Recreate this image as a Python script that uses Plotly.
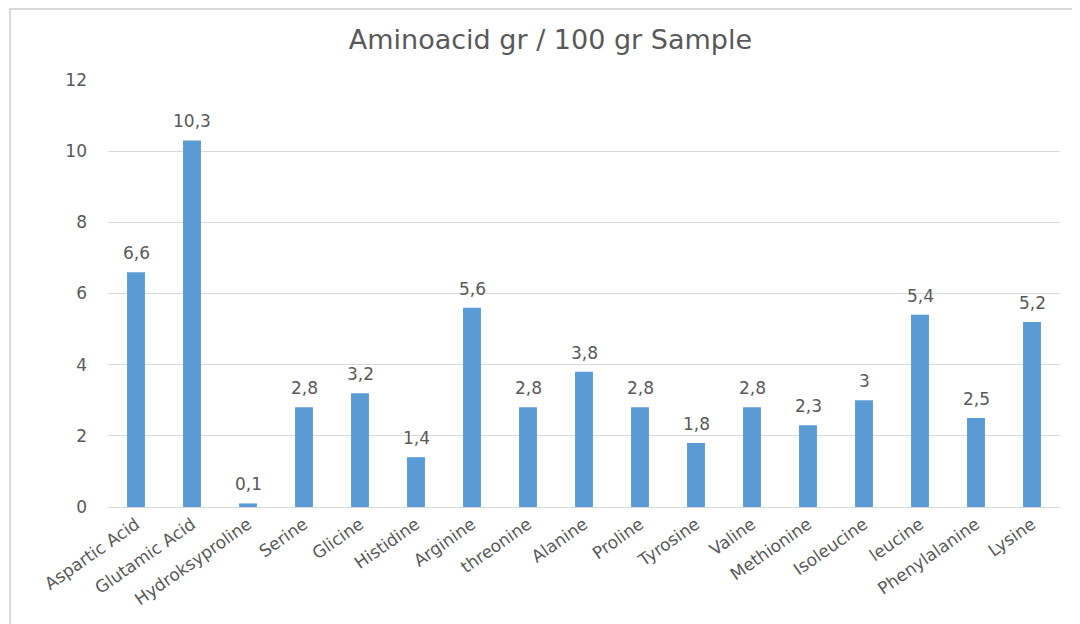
import plotly.graph_objects as go

categories = ["Aspartic Acid", "Glutamic Acid", "Hydroksyproline", "Serine", "Glicine",
              "Histidine", "Arginine", "threonine", "Alanine", "Proline", "Tyrosine",
              "Valine", "Methionine", "Isoleucine", "leucine", "Phenylalanine", "Lysine"]
values = [6.6, 10.3, 0.1, 2.8, 3.2, 1.4, 5.6, 2.8, 3.8, 2.8, 1.8, 2.8, 2.3, 3.0, 5.4, 2.5, 5.2]
y_ticks = [0, 2, 4, 6, 8, 10, 12]

FONT = "DejaVu Sans, sans-serif"
GREY = "#595959"

fig = go.Figure(go.Bar(
    x=categories, y=values,
    marker=dict(color="#5B9BD5", line=dict(width=0)),
    hoverinfo="x+y",
))

annotations = [
    dict(x=c, y=v, xref="x", yref="y", text=f"{v:g}".replace(".", ","),
         showarrow=False, yanchor="bottom", yshift=7,
         font=dict(family=FONT, size=17, color=GREY))
    for c, v in zip(categories, values)
]

W, H = 1072, 616
L, T = 100, 72
PW, PH = 952, 427

fig.update_layout(
    width=W, height=H,
    separators=", ",
    paper_bgcolor="white", plot_bgcolor="white",
    margin=dict(l=L, r=W - L - PW, t=T, b=H - T - PH, autoexpand=False),
    bargap=0.68,
    title=dict(text="Aminoacid gr / 100 gr Sample", x=0.506, xanchor="center",
               y=0.948, yanchor="middle",
               font=dict(family=FONT, size=27, color=GREY)),
    showlegend=False,
    annotations=annotations,
    xaxis=dict(tickangle=-35, tickfont=dict(family=FONT, size=17, color=GREY),
               showline=True, linecolor="#d9d9d9", linewidth=1, ticks="",
               showgrid=False, automargin=False),
    yaxis=dict(range=[0, 12], tickvals=y_ticks, showgrid=True, gridcolor="#d9d9d9",
               gridwidth=1, zeroline=False, showline=False, ticks="",
               ticklabelstandoff=20, automargin=False,
               tickfont=dict(family=FONT, size=17, color=GREY)),
    shapes=[dict(type="rect", xref="paper", yref="paper",
                 x0=(2 - L) / PW, x1=1.1, y0=-0.4, y1=1 + (T - 1) / PH,
                 line=dict(color="#d9d9d9", width=2), fillcolor="rgba(0,0,0,0)", layer="below")],
)

fig.write_html("out.html")
